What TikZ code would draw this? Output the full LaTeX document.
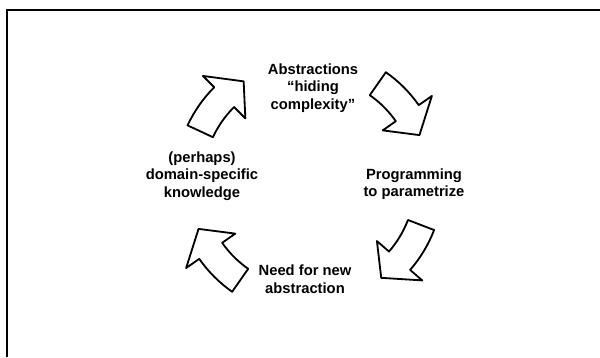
\documentclass[tikz,border=0pt]{standalone}
\usepackage{fontspec}
\setsansfont{Liberation Sans}
\usepackage{tikz}

% one curved block arrow of the cycle, running clockwise round its middle angle
\newcommand{\cyclearrow}[1]{%
  \draw[cyclearrow] (#1+17:106) arc[start angle=#1+17, end angle=#1-3, radius=106]
    -- (#1-3:90) -- (#1-15:120) -- (#1-3:150)
    -- (#1-3:134) arc[start angle=#1-3, end angle=#1+17, radius=134] -- cycle;}

\begin{document}
\begin{tikzpicture}[
  x=0.025cm, y=0.025cm,
  line width=1.2pt,
  every node/.style={font=\sffamily\bfseries\fontsize{10.5}{12.5}\selectfont},
  stage/.style={align=center,inner sep=1pt},
  cyclearrow/.style={draw=black,fill=white,line width=1.3pt,line join=round},
  frameline/.style={line width=1.4pt}
]
  \useasboundingbox (0,0) rectangle (600,357);

  % Frame, open on the right and at the bottom.
  \coordinate (fbot) at (7,0);
  \coordinate (fcorner) at (7,347);
  \coordinate (fright) at (600,347);
  \draw[frameline] (fbot) -- (fcorner) -- (fright);

  % The four stages.
  \node[stage] (abstr) at (313,269) {Abstractions\\“hiding\\complexity”};
  \node[stage] (prog) at (414,173) {Programming\\to parametrize};
  \node[stage] (need) at (305,78) {Need for new\\abstraction};
  \node[stage] (know) at (202,181) {(perhaps)\\domain-specific\\knowledge};

  % Arrows of the cycle.
  \coordinate (hub) at (309,175);
  \begin{scope}[shift={(hub)}]
    \cyclearrow{38}
    \cyclearrow{-38}
    \cyclearrow{-142}
    \cyclearrow{138}
  \end{scope}
\end{tikzpicture}
\end{document}
